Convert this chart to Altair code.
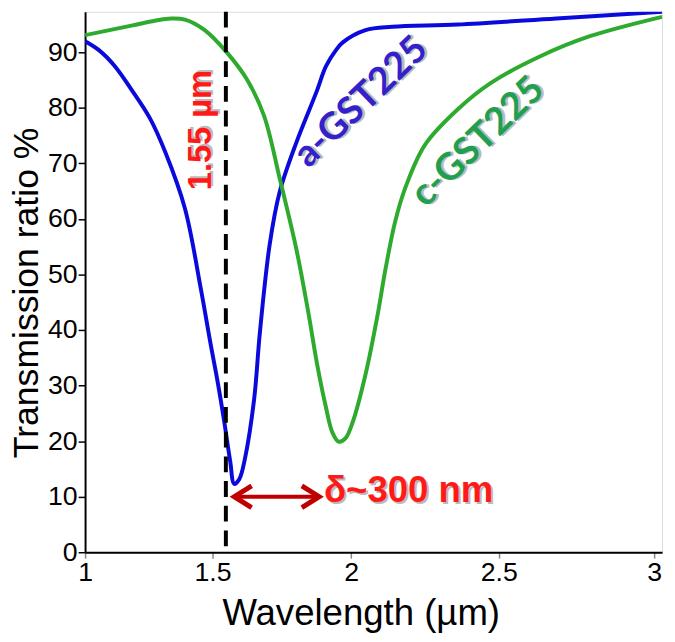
import altair as alt
import pandas as pd

# ---- data ----
a_wl = [1.0, 1.057, 1.120, 1.188, 1.260, 1.320, 1.396, 1.456, 1.493, 1.520, 1.544, 1.566, 1.581, 1.600,
        1.621, 1.654, 1.675, 1.711, 1.747, 1.807, 1.877, 1.912, 1.947, 1.971, 2.050, 2.142, 2.363,
        2.688, 3.025]
a_T = [92.0, 90.4, 87.6, 83.3, 78.2, 72.1, 61.9, 47.5, 37.5, 30.5, 23.5, 16.4, 12.3, 13.2,
       17.0, 27.5, 39.5, 55.5, 64.9, 73.8, 82.7, 87.5, 90.4, 91.8, 94.0, 94.6, 95.0,
       96.1, 97.3]
c_wl = [1.0, 1.188, 1.280, 1.343, 1.396, 1.471, 1.555, 1.628, 1.690, 1.747, 1.807, 1.850, 1.880,
        1.910, 1.935, 1.957, 1.980, 2.006, 2.050, 2.091, 2.119, 2.152, 2.186, 2.253, 2.363, 2.474,
        2.636, 2.796, 3.025]
c_T = [93.1, 94.8, 95.7, 96.1, 95.9, 94.0, 89.9, 85.1, 78.6, 67.3, 54.5, 43.0, 34.0,
       26.5, 21.5, 19.9, 20.5, 23.5, 32.0, 42.5, 51.0, 59.5, 65.5, 73.3, 79.7, 84.5,
       89.3, 92.9, 96.4]
series = ["a-GST225", "c-GST225"]
series_colors = ["#0a0adc", "#2eaa2e"]

x_ticks = [1, 1.5, 2, 2.5, 3]
y_ticks = [0, 10, 20, 30, 40, 50, 60, 70, 80, 90]

marker_wl = [1.55]
arrow_left = [1.581]
arrow_right = [1.888]
arrow_T = [10]

ann_text = ["1.55 µm", "a-GST225", "c-GST225", "δ~300 nm"]
ann_wl = [1.456, 2.036, 2.432, 2.198]
ann_T = [76.0, 81.0, 73.8, 11.0]

# ---- tables ----
curves = pd.DataFrame({
    "wl": a_wl + c_wl,
    "T": a_T + c_T,
    "film": [series[0]] * len(a_wl) + [series[1]] * len(c_wl),
})
marker = pd.DataFrame({"wl": marker_wl})
shaft = pd.DataFrame({"wl": arrow_left, "wl2": arrow_right, "T": arrow_T})
head_l = pd.DataFrame({"wl": arrow_left, "T": arrow_T})
head_r = pd.DataFrame({"wl": arrow_right, "T": arrow_T})

xs = alt.Scale(type="pow", exponent=1.25, domain=[1, 3.025], nice=False, zero=False)
ys = alt.Scale(domain=[0, 97.3], nice=False, zero=False)

xaxis = alt.Axis(
    title="Wavelength (µm)", values=x_ticks, format="~g", grid=False,
    labelFont="Liberation Sans", labelFontSize=27, labelColor="#000",
    labelPadding=2, tickSize=6, tickColor="#888", tickWidth=1.5,
    domainColor="#000", domainWidth=2,
    titleFont="Liberation Sans", titleFontSize=37, titleFontWeight="normal",
    titleColor="#000", titleX=279, titleY=73, titleBaseline="alphabetic",
    labelFlush=False,
)
yaxis = alt.Axis(
    title="Transmission ratio %", values=y_ticks, grid=False,
    labelFont="Liberation Sans", labelFontSize=27, labelColor="#000",
    labelPadding=1, tickSize=7, tickColor="#000", tickWidth=1.5,
    domainColor="#000", domainWidth=2,
    titleFont="Liberation Sans", titleFontSize=36, titleFontWeight="normal",
    titleColor="#000", titleX=-48, titleY=284, titleBaseline="alphabetic",
    labelFlush=False,
)


def X(field="wl"):
    return alt.X(f"{field}:Q", scale=xs, axis=xaxis)


def Y(field="T"):
    return alt.Y(f"{field}:Q", scale=ys, axis=yaxis)


lines = alt.Chart(curves).mark_line(strokeWidth=4, interpolate="catmull-rom", clip=True).encode(
    x=X(), y=Y(),
    color=alt.Color("film:N", scale=alt.Scale(domain=series, range=series_colors), legend=None),
    detail="film:N",
)

rule = alt.Chart(marker).mark_rule(color="#000", strokeWidth=4, strokeDash=[16, 9]).encode(x=X())


def text_layer(i, color, font, size, angle, weight="bold"):
    df = pd.DataFrame({"wl": [ann_wl[i]], "T": [ann_T[i]], "label": [ann_text[i]]})
    shadow = alt.Chart(df).mark_text(
        font=font, fontSize=size, fontWeight=weight, angle=angle, align="center",
        baseline="middle", color="#777", opacity=0.5, dx=2, dy=2,
    ).encode(x=X(), y=Y(), text="label:N")
    main = alt.Chart(df).mark_text(
        font=font, fontSize=size, fontWeight=weight, angle=angle, align="center",
        baseline="middle", color=color,
    ).encode(x=X(), y=Y(), text="label:N")
    return [shadow, main]


texts = []
texts += text_layer(0, "#ff1a1a", "Liberation Sans", 33, 270)
texts += text_layer(1, "#3322cc", "Lato", 38, 316)
texts += text_layer(2, "#1fa050", "Lato", 38, 316)
texts += text_layer(3, "#ff1a1a", "Liberation Sans", 37, 0)

arrow_color = "#c00000"
shaft_layer = alt.Chart(shaft).mark_rule(color=arrow_color, strokeWidth=4).encode(
    x=X(), x2="wl2:Q", y=Y()
)
head_left = alt.Chart(head_l).mark_point(
    shape="M 1.6 -1 L 0 0 L 1.6 1", size=484, filled=False, stroke=arrow_color,
    strokeWidth=5, opacity=1,
).encode(x=X(), y=Y())
head_right = alt.Chart(head_r).mark_point(
    shape="M -1.6 -1 L 0 0 L -1.6 1", size=484, filled=False, stroke=arrow_color,
    strokeWidth=5, opacity=1,
).encode(x=X(), y=Y())

chart = alt.layer(lines, rule, shaft_layer, head_left, head_right, *texts).properties(
    width=584, height=547,
    autosize=alt.AutoSizeParams(type="none"),
    padding={"left": 78, "top": 0, "right": 5, "bottom": 87},
).configure_view(stroke="#222", strokeWidth=1.5).configure(background="white")

chart.save("out.html", embed_options={"renderer": "svg", "actions": False})
